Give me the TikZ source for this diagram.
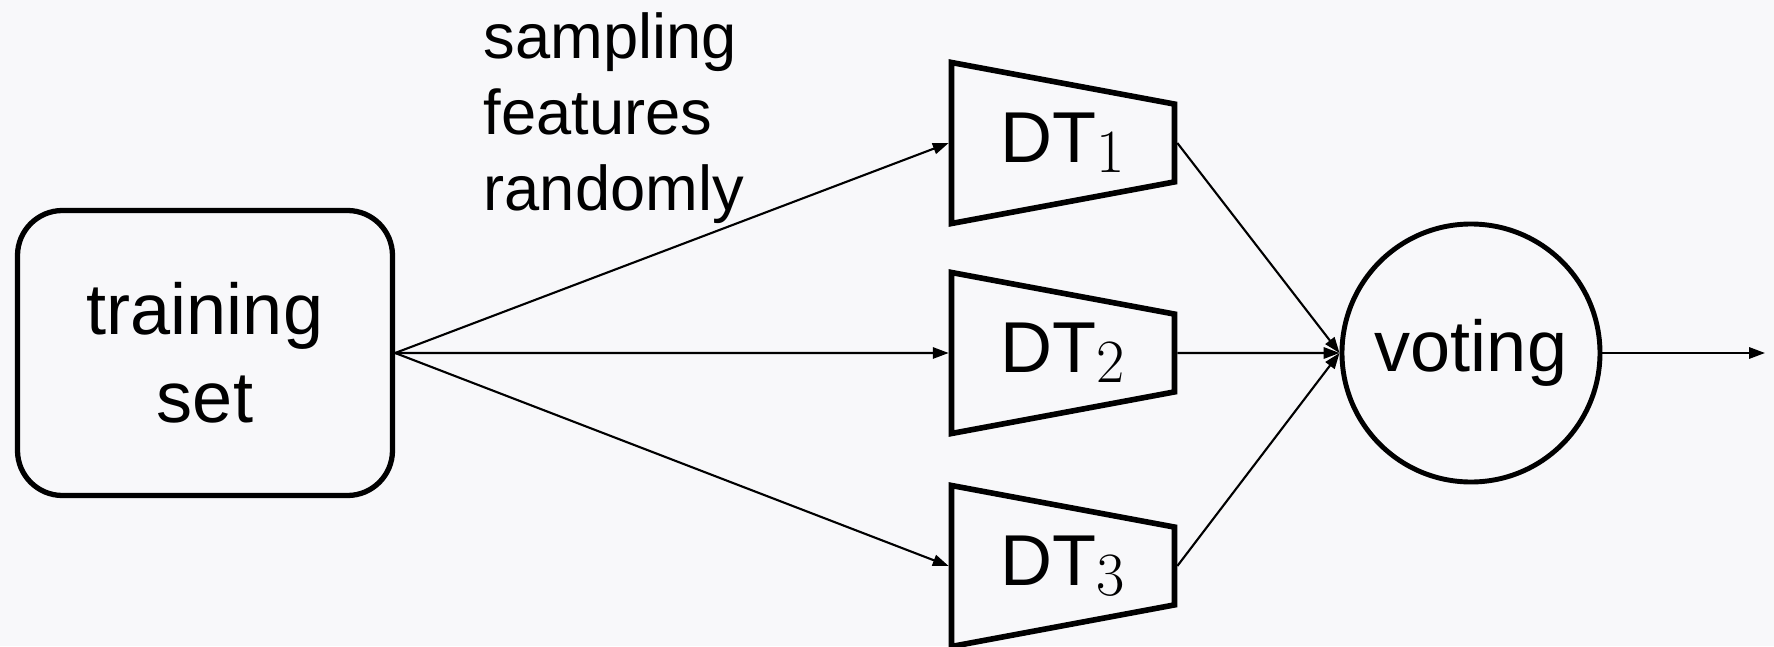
\documentclass[tikz,border=0pt]{standalone}
\usepackage{fontspec}
\setmainfont{Liberation Sans}
\newfontfamily\subfont{Latin Modern Roman}
\usepackage{tikz}
\usetikzlibrary{arrows.meta,positioning,shapes.geometric}
\definecolor{bggray}{RGB}{248,248,250}
\newcommand{\dtsub}[1]{\raisebox{-2.8pt}{\subfont\fontsize{17.5}{17.5}\selectfont #1}}

\begin{document}
\begin{tikzpicture}[>={Triangle[length=4.5pt,width=3.2pt]}, every node/.style={font=\fontsize{20.5}{25}\selectfont}]
\tikzset{box/.style={draw, line width=1.5pt, rounded corners=0.45cm, minimum width=3.75cm, minimum height=2.85cm, align=center, inner sep=0}}
\tikzset{tree/.style={draw, line width=1.6pt, trapezium, trapezium angle=71.5, shape border rotate=270, trapezium stretches body, minimum width=1.61cm, minimum height=2.23cm, inner sep=0}}
\tikzset{vote/.style={draw, circle, line width=1.4pt, minimum size=2.58cm, inner sep=0}}
\tikzset{link/.style={->, line width=0.6pt}}

\fill[bggray] (0,0) rectangle (17.74,6.46);
\useasboundingbox (0,0) rectangle (17.74,6.46);

% input and caption
\node[box] (train) at (2.05,2.93) {training\\set};
\node[anchor=north west, align=left, inner sep=0, font=\fontsize{18}{21.6}\selectfont] (samp) at (4.83,6.34) {sampling\\features\\randomly};

% trees
\node[tree] (dt1) at (10.63,5.03) {DT\dtsub{1}\hspace{0.2cm}};
\node[tree] (dt2) at (10.63,2.93) {DT\dtsub{2}\hspace{0.2cm}};
\node[tree] (dt3) at (10.63,0.80) {DT\dtsub{3}\hspace{0.2cm}};

% output
\node[vote] (vote) at (14.71,2.93) {voting};
\coordinate (out) at (17.65,2.93);

\draw[link] (train.east) -- (dt1.west); \draw[link] (train.east) -- (dt2.west); \draw[link] (train.east) -- (dt3.west);
\draw[link] (dt1.east) -- (vote.west); \draw[link] (dt2.east) -- (vote.west); \draw[link] (dt3.east) -- (vote.west);
\draw[link] (vote.east) -- (out);
\end{tikzpicture}
\end{document}
